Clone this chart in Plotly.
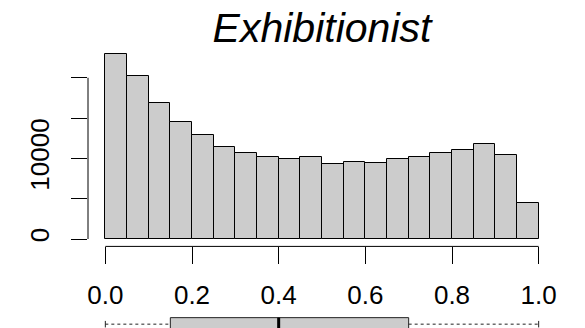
import plotly.graph_objects as go

# ---- data ----
breaks = [0.0, 0.05, 0.10, 0.15, 0.20, 0.25, 0.30, 0.35, 0.40, 0.45, 0.50,
          0.55, 0.60, 0.65, 0.70, 0.75, 0.80, 0.85, 0.90, 0.95, 1.00]
counts = [22900, 20250, 16900, 14545, 12860, 11445, 10700, 10205, 9880, 10130,
          9340, 9510, 9460, 9920, 10205, 10665, 11000, 11780, 10450, 4500]
y_tickvals = [0, 5000, 10000, 15000, 20000]
y_ticktext = ["0", "", "10000", "", ""]
x_tickvals = [0.0, 0.2, 0.4, 0.6, 0.8, 1.0]
x_ticktext = ["0.0", "0.2", "0.4", "0.6", "0.8", "1.0"]
box_stats = {"lo": 0.0, "q1": 0.15, "median": 0.40, "q3": 0.70, "hi": 1.0}
title_text = "Exhibitionist"

# ---- derived ----
mids = [(breaks[i] + breaks[i + 1]) / 2 for i in range(len(counts))]
widths = [breaks[i + 1] - breaks[i] for i in range(len(counts))]
ymax = max(counts)
xr = [breaks[0] - 0.04 * (breaks[-1] - breaks[0]), breaks[-1] + 0.04 * (breaks[-1] - breaks[0])]
yr = [-0.04 * ymax, 1.04 * ymax]

W, H = 585, 328
left_px, right_px = 87.6, 556.4
top_px, bot_px = 47.0, 246.4
FONT = "Liberation Sans, Arial, Helvetica, sans-serif"
GRAY = "#CCCCCC"

fig = go.Figure()
fig.add_trace(go.Bar(
    x=mids, y=counts, width=widths,
    marker=dict(color=GRAY, line=dict(color="black", width=1)),
    xaxis="x", yaxis="y", showlegend=False, hoverinfo="skip"))

# boxplot (R style)
BW = 3.4
fig.add_trace(go.Box(
    y=[0], q1=[box_stats["q1"]], median=[box_stats["median"]], q3=[box_stats["q3"]],
    lowerfence=[box_stats["q1"]], upperfence=[box_stats["q3"]],
    orientation="h", width=BW, whiskerwidth=0,
    fillcolor=GRAY, line=dict(color="#222222", width=1),
    xaxis="x2", yaxis="y2", showlegend=False, hoverinfo="skip"))
# median thick line
fig.add_trace(go.Scatter(
    x=[box_stats["median"], box_stats["median"]], y=[-BW / 2, BW / 2],
    mode="lines", line=dict(color="black", width=3),
    xaxis="x2", yaxis="y2", showlegend=False, hoverinfo="skip"))
# dashed whiskers
for a, b in [("lo", "q1"), ("q3", "hi")]:
    fig.add_trace(go.Scatter(
        x=[box_stats[a], box_stats[b]], y=[0, 0], mode="lines",
        line=dict(color="#222222", width=1, dash="3px,3px"),
        xaxis="x2", yaxis="y2", showlegend=False, hoverinfo="skip"))
# staples
for k in ["lo", "hi"]:
    fig.add_trace(go.Scatter(
        x=[box_stats[k], box_stats[k]], y=[-BW / 4, BW / 4], mode="lines",
        line=dict(color="#222222", width=1),
        xaxis="x2", yaxis="y2", showlegend=False, hoverinfo="skip"))

# axis lines spanning only the tick range (R style)
fig.add_shape(type="line", xref="x", yref="y domain",
              x0=x_tickvals[0], x1=x_tickvals[-1], y0=0, y1=0,
              line=dict(color="black", width=1))
fig.add_shape(type="line", xref="x domain", yref="y",
              x0=0, x1=0, y0=y_tickvals[0], y1=y_tickvals[-1],
              line=dict(color="black", width=1))

fig.update_layout(
    width=W, height=H,
    margin=dict(l=left_px, r=W - right_px, t=0, b=0, pad=0),
    paper_bgcolor="white", plot_bgcolor="white",
    bargap=0,
    font=dict(family=FONT, size=26, color="black"),
    title=dict(text=title_text, x=(left_px + right_px) / 2 / W, xanchor="center",
               xref="container", yref="container", y=1 - 28 / H, yanchor="middle",
               font=dict(family=FONT, size=41, style="italic", color="black")),
    xaxis=dict(range=xr, domain=[0, 1], anchor="y",
               tickvals=x_tickvals, ticktext=x_ticktext,
               ticks="outside", ticklen=17, tickwidth=1, tickcolor="black",
               showline=False, showgrid=False, zeroline=False,
               ticklabelstandoff=8, tickfont=dict(size=26)),
    yaxis=dict(range=yr, domain=[(H - bot_px) / H, (H - top_px) / H], anchor="x",
               tickvals=y_tickvals, ticktext=y_ticktext, tickangle=-90,
               ticks="outside", ticklen=16, tickwidth=1, tickcolor="black",
               showline=False, showgrid=False, zeroline=False,
               ticklabelstandoff=12, tickfont=dict(size=26)),
    xaxis2=dict(range=xr, domain=[0, 1], anchor="y2", visible=False),
    yaxis2=dict(range=[-1, 5], domain=[0, 23 / H], anchor="x2", visible=False),
)

fig.write_html("out.html")
